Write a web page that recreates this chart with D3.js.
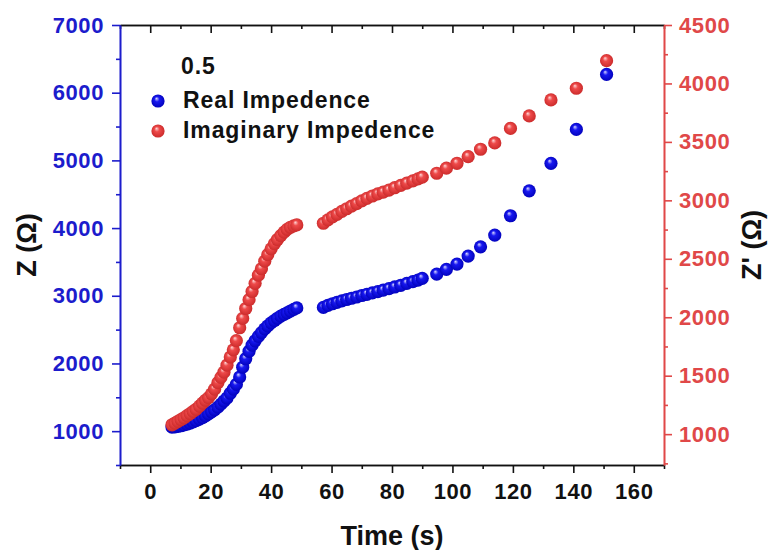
<!DOCTYPE html>
<html>
<head>
<meta charset="utf-8">
<script src="https://cdn.jsdelivr.net/npm/d3@7"></script>
<style>
  body { margin: 0; background: #fff; }
  svg { display: block; font-family: Arial, "Liberation Sans", sans-serif; font-weight: bold; }
</style>
</head>
<body>
<svg id="chart"></svg>
<script>
// time (s)
const times = [
  7.2, 8.2, 9.2, 10.2, 11.2, 12.2, 13.2, 14.2, 15.2, 16.3, 17.3, 18.3, 19.3, 20.3, 21.3,
  22.4, 23.4, 24.4, 25.4, 26.5, 27.5, 28.5, 29.6, 30.6, 31.6, 32.7, 33.7, 34.7, 35.8, 36.8,
  37.9, 38.9, 40.0, 41.1, 42.1, 43.2, 44.3, 45.3, 46.4, 47.5, 48.5,
  57.3, 58.8, 60.3, 61.8, 63.4, 65.0, 66.6, 68.3, 70.0, 71.7, 73.5, 75.3, 77.1, 79.0, 80.9,
  82.9, 84.9, 86.9, 88.6, 90.0,
  94.8, 98.0, 101.5, 105.2, 109.3, 114.0, 119.2, 125.4, 132.6, 141.0, 151.0
];

// Real impedence, left axis
const realZ = [
  1060, 1062, 1070, 1080, 1092, 1105, 1120, 1137, 1155, 1178, 1200, 1225, 1255, 1285, 1315,
  1355, 1400, 1445, 1490, 1560, 1620, 1690, 1800, 1945, 2070, 2180, 2270, 2335, 2400, 2455,
  2510, 2555, 2600, 2635, 2668, 2700, 2725, 2748, 2775, 2800, 2820,
  2828, 2858, 2882, 2903, 2925, 2945, 2963, 2982, 3004, 3022, 3042, 3062, 3083, 3106, 3130,
  3155, 3182, 3208, 3232, 3257,
  3320, 3390, 3468, 3586, 3723, 3896, 4182, 4550, 4956, 5458, 6270
];

// Imaginary impedence, right axis
const imagZ = [
  1080, 1095, 1110, 1125, 1140, 1158, 1176, 1195, 1213, 1240, 1265, 1290, 1312, 1345, 1385,
  1440, 1485, 1530, 1590, 1660, 1721, 1800, 1910, 1990, 2075, 2150, 2220, 2290, 2360, 2415,
  2480, 2535, 2585, 2630, 2665, 2698, 2728, 2752, 2770, 2782, 2790,
  2804, 2833, 2858, 2880, 2905, 2928, 2950, 2972, 2996, 3017, 3037, 3055, 3070, 3088, 3108,
  3128, 3147, 3166, 3183, 3198,
  3232, 3275, 3317, 3374, 3437, 3491, 3615, 3722, 3859, 3959, 4195
];

const xTicks = [0, 20, 40, 60, 80, 100, 120, 140, 160];
const xMinor = [-10, 10, 30, 50, 70, 90, 110, 130, 150, 170];
const leftTicks = [1000, 2000, 3000, 4000, 5000, 6000, 7000];
const leftMinor = [500, 1500, 2500, 3500, 4500, 5500, 6500];
const rightTicks = [1000, 1500, 2000, 2500, 3000, 3500, 4000, 4500];
const rightMinor = [750, 1250, 1750, 2250, 2750, 3250, 3750, 4250];

const seriesNames = ['Real Impedence', 'Imaginary Impedence'];
const legendTitle = '0.5';

const BLUE = '#1c1ccc';
const RED = '#e04848';

const width = 769, height = 550;
const margin = { top: 25, right: 105, bottom: 85, left: 120 };
const innerW = width - margin.left - margin.right;
const innerH = height - margin.top - margin.bottom;

const svg = d3.select('#chart')
  .attr('width', width)
  .attr('height', height);

// sphere-like fills
const defs = svg.append('defs');
function sphere(id, light, mid, dark) {
  const g = defs.append('radialGradient')
    .attr('id', id)
    .attr('cx', '50%').attr('cy', '50%').attr('r', '55%')
    .attr('fx', '38%').attr('fy', '30%');
  g.append('stop').attr('offset', '0%').attr('stop-color', light);
  g.append('stop').attr('offset', '35%').attr('stop-color', mid);
  g.append('stop').attr('offset', '100%').attr('stop-color', dark);
}
sphere('ballBlue', '#d8d8ff', '#1818f0', '#0000b8');
sphere('ballRed', '#ffd8d8', '#ee4a4a', '#c82828');

const chart = svg.append('g')
  .attr('transform', `translate(${margin.left},${margin.top})`);

const x = d3.scaleLinear().domain([-10, 170]).range([0, innerW]);
const yL = d3.scaleLinear().domain([500, 7000]).range([innerH, 0]);
const yR = d3.scaleLinear().domain([736, 4500]).range([innerH, 0]);
const fmt = d3.format('d');

function styleAxis(g, color) {
  g.selectAll('path').attr('stroke', color).attr('stroke-width', 1.6);
  g.selectAll('line').attr('stroke', color).attr('stroke-width', 1.6);
  g.selectAll('text').attr('fill', color).style('font-size', '22px').style('font-weight', 'bold')
    .style('font-family', 'Arial, "Liberation Sans", sans-serif').style('letter-spacing', '0.6px');
}

// bottom axis
const xAxisG = chart.append('g').attr('transform', `translate(0,${innerH})`)
  .call(d3.axisBottom(x).tickValues(xTicks).tickSize(8).tickSizeOuter(0).tickPadding(10).tickFormat(fmt));
styleAxis(xAxisG, '#111');
const xMinorG = chart.append('g').attr('transform', `translate(0,${innerH})`)
  .call(d3.axisBottom(x).tickValues(xMinor).tickSize(4).tickSizeOuter(0).tickFormat(''));
styleAxis(xMinorG, '#111');

// top axis, ticks pointing in
const topG = chart.append('g')
  .call(d3.axisBottom(x).tickValues(xTicks).tickSize(8).tickSizeOuter(0).tickFormat(''));
styleAxis(topG, '#111');
const topMinorG = chart.append('g')
  .call(d3.axisBottom(x).tickValues(xMinor).tickSize(4).tickSizeOuter(0).tickFormat(''));
styleAxis(topMinorG, '#111');

// left axis
const yLG = chart.append('g')
  .call(d3.axisLeft(yL).tickValues(leftTicks).tickSize(8).tickSizeOuter(0).tickPadding(8).tickFormat(fmt));
styleAxis(yLG, BLUE);
const yLMinorG = chart.append('g')
  .call(d3.axisLeft(yL).tickValues(leftMinor).tickSize(4).tickSizeOuter(0).tickFormat(''));
styleAxis(yLMinorG, BLUE);

// right axis
const yRG = chart.append('g').attr('transform', `translate(${innerW},0)`)
  .call(d3.axisRight(yR).tickValues(rightTicks).tickSize(8).tickSizeOuter(0).tickPadding(7).tickFormat(fmt));
styleAxis(yRG, RED);
const yRMinorG = chart.append('g').attr('transform', `translate(${innerW},0)`)
  .call(d3.axisRight(yR).tickValues(rightMinor).tickSize(4).tickSizeOuter(0).tickFormat(''));
styleAxis(yRMinorG, RED);

// points
const R = 6.6;
const realPts = times.map((t, i) => ({ t: t, v: realZ[i] }));
const imagPts = times.map((t, i) => ({ t: t, v: imagZ[i] }));

chart.append('g').selectAll('circle')
  .data(realPts)
  .join('circle')
  .attr('cx', d => x(d.t))
  .attr('cy', d => yL(d.v))
  .attr('r', R)
  .attr('fill', 'url(#ballBlue)');

chart.append('g').selectAll('circle')
  .data(imagPts)
  .join('circle')
  .attr('cx', d => x(d.t))
  .attr('cy', d => yR(d.v))
  .attr('r', R)
  .attr('fill', 'url(#ballRed)');

// axis titles
svg.append('text')
  .attr('x', margin.left + innerW / 2)
  .attr('y', 545)
  .attr('text-anchor', 'middle')
  .style('font-size', '27px')
  .attr('fill', '#111')
  .text('Time (s)');

svg.append('text')
  .attr('transform', `translate(36,${margin.top + innerH / 2}) rotate(-90)`)
  .attr('text-anchor', 'middle')
  .style('font-size', '27px')
  .attr('fill', '#111')
  .text('Z (Ω)');

svg.append('text')
  .attr('transform', `translate(761,${margin.top + innerH / 2}) rotate(-90)`)
  .attr('text-anchor', 'middle')
  .style('font-size', '27px')
  .attr('fill', '#111')
  .text("Z' (Ω)");

// legend
const legend = svg.append('g').style('font-size', '23px').attr('fill', '#111')
  .style('letter-spacing', '0.9px');
legend.append('text').attr('x', 181).attr('y', 74).text(legendTitle);
const fills = ['url(#ballBlue)', 'url(#ballRed)'];
seriesNames.forEach((name, i) => {
  const cy = 101 + i * 30;
  legend.append('circle').attr('cx', 158).attr('cy', cy).attr('r', R).attr('fill', fills[i]);
  legend.append('text').attr('x', 183).attr('y', cy + 7).text(name);
});
</script>
</body>
</html>
